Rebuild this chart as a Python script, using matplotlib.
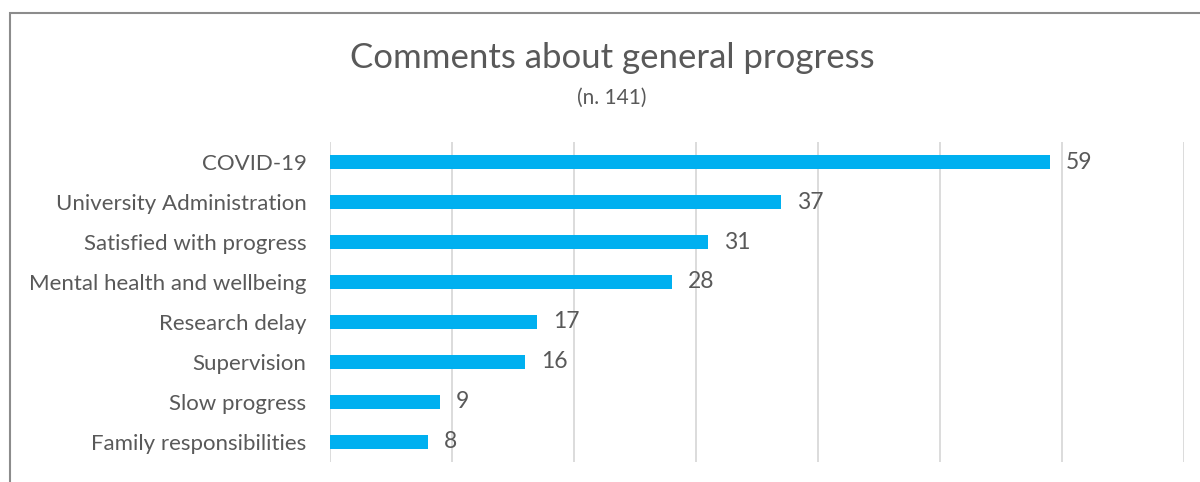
import matplotlib
matplotlib.use("Agg")
import matplotlib.pyplot as plt
from matplotlib.patches import Rectangle

categories = ["COVID-19", "University Administration", "Satisfied with progress",
              "Mental health and wellbeing", "Research delay", "Supervision",
              "Slow progress", "Family responsibilities"]
counts = [59, 37, 31, 28, 17, 16, 9, 8]

title = "Comments about general progress"
subtitle = "(n. 141)"

plt.rcParams['font.family'] = ['Lato', 'DejaVu Sans']
txt = '#595959'

fig = plt.figure(figsize=(12, 4.82), dpi=100)
ax = fig.add_axes([330/1200, 1 - 462/482, (1184-330)/1200, 320/482])

ypos = list(range(len(categories)))
ax.barh(ypos, counts, height=0.35, color='#00B0F0', zorder=3)
ax.set_ylim(len(categories) - 0.5, -0.5)
ax.set_xlim(0, 70)
ax.set_xticks(range(0, 71, 10))
ax.xaxis.grid(True, color='#D9D9D9', linewidth=1.3, zorder=0)
ax.tick_params(axis='x', length=0, labelbottom=False)
ax.tick_params(axis='y', length=0, pad=17, labelsize=16, labelcolor=txt)
ax.set_yticks(ypos)
ax.set_yticklabels(categories)
for s in ax.spines.values():
    s.set_visible(False)

for y, v in zip(ypos, counts):
    ax.text(v + 1.3, y, str(v), va='center', ha='left', fontsize=16.5, color=txt)

fig.text(612/1200, 1 - 58/482, title, ha='center', va='center', fontsize=25, color=txt)
fig.text(612/1200, 1 - 98/482, subtitle, ha='center', va='center', fontsize=15, color=txt)

# chart frame (cropped on right and bottom)
fig.patches.append(Rectangle((10/1200, -0.1), 1.2, 1 - 13/482 + 0.1,
                             transform=fig.transFigure, fill=False,
                             edgecolor='#8c8c8c', linewidth=1.5))

fig.savefig("out.png", dpi=100)
